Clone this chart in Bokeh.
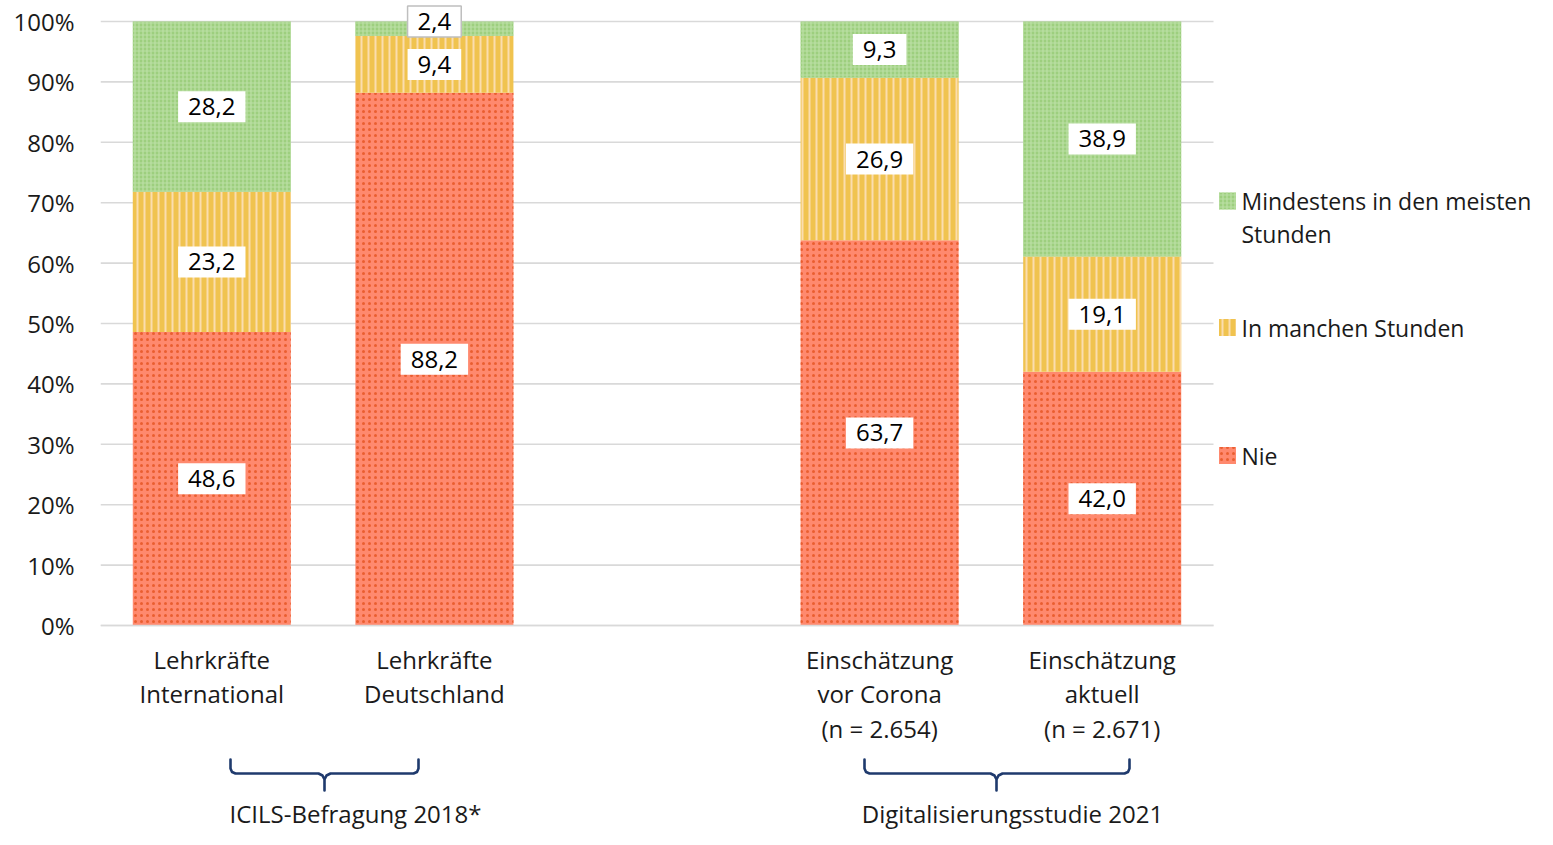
from bokeh.plotting import figure
from bokeh.models import ColumnDataSource, FixedTicker, PrintfTickFormatter, LinearAxis
from bokeh.core.properties import value
from bokeh.embed import file_html
from bokeh.resources import INLINE

# ---------------- data ----------------
categories = ["Lehrkräfte\nInternational", "Lehrkräfte\nDeutschland",
              "Einschätzung\nvor Corona\n(n = 2.654)", "Einschätzung\naktuell\n(n = 2.671)"]
slots = [1, 2, 4, 5]                      # slot 3 is an empty gap between the two studies
series_names = ["Nie", "In manchen Stunden", "Mindestens in den meisten Stunden"]
legend_labels = ["Nie", "In manchen Stunden", "Mindestens in den meisten\nStunden"]
nie = [48.6, 88.2, 63.7, 42.0]
manche = [23.2, 9.4, 26.9, 19.1]
meiste = [28.2, 2.4, 9.3, 38.9]
groups = ["ICILS-Befragung 2018*", "Digitalisierungsstudie 2021"]
y_ticks = [0, 10, 20, 30, 40, 50, 60, 70, 80, 90, 100]

# ---------------- styles ----------------
FONT = value("Open Sans")
FS = "24px"
fills = ["#FF896E", "#F0C34F", "#9DCF7E"]
hatch_cols = ["#EA5E30", "#FBDDAE", "#BCE0A5"]
patterns = ["dot", "vertical_line", "cross"]
hatch_scales = [6, 7, 4]
hatch_weights = [1.8, 2.0, 1.2]
GRID = "#D9D9D9"
BRACE = "#1F3A6D"
W, H = 1537, 829

# pixel helpers (plot frame: x 100..W, y 0..H; 100% at 21, 0% at 625)
PXU_X = 222.6
PXU_Y = 6.04
def dx(sx):
    return 0.5 + (sx - 100) / PXU_X
def dy(sy):
    return (625 - sy) / PXU_Y

p = figure(width=W, height=H, output_backend="svg", toolbar_location=None,
           x_range=(0.5, dx(W)), y_range=(dy(H), dy(0)),
           x_axis_type=None, min_border_left=100, min_border_right=0,
           min_border_top=0, min_border_bottom=0)
p.outline_line_color = None
p.xgrid.visible = False
p.ygrid.visible = False
p.background_fill_color = "white"
p.border_fill_color = "white"

# y axis
yax = p.yaxis[0]
yax.ticker = FixedTicker(ticks=y_ticks)
yax.formatter = PrintfTickFormatter(format="%d%%")
yax.axis_line_color = None
yax.major_tick_line_color = None
yax.minor_tick_line_color = None
yax.major_tick_out = 0
yax.major_label_standoff = 26
yax.major_label_text_font = "Open Sans"
yax.major_label_text_font_size = FS
yax.major_label_text_color = "#1a1a1a"

# gridlines (stop at the end of the plot area, legend lives to the right)
p.segment(x0=[0.5] * len(y_ticks), x1=[5.5] * len(y_ticks), y0=y_ticks, y1=y_ticks,
          line_color=GRID, line_width=1.6)

# x axis at 0 with category labels
xax = LinearAxis(fixed_location=0, ticker=FixedTicker(ticks=slots),
                 major_label_overrides={s: c for s, c in zip(slots, categories)},
                 bounds=(0.5, 5.5))
xax.axis_line_color = GRID
xax.axis_line_width = 1.6
xax.major_tick_line_color = None
xax.minor_tick_line_color = None
xax.major_tick_out = 0
xax.major_label_standoff = 17
xax.major_label_text_font = "Open Sans"
xax.major_label_text_font_size = FS
xax.major_label_text_color = "#1a1a1a"
xax.major_label_text_line_height = 1.05
p.add_layout(xax, "below")

# stacked bars
totals = [a + b + c for a, b, c in zip(nie, manche, meiste)]
bottoms = [0.0] * len(slots)
lab_in = dict(x=[], y=[], t=[])
lab_out = dict(x=[], y=[], t=[])
for i, s in enumerate([nie, manche, meiste]):
    share = [v / t * 100 for v, t in zip(s, totals)]
    tops = [b + sh for b, sh in zip(bottoms, share)]
    src = ColumnDataSource(dict(x=slots, bottom=bottoms, top=tops))
    p.vbar(x="x", bottom="bottom", top="top", width=0.71, source=src,
           fill_color=fills[i], line_color=None,
           hatch_pattern=patterns[i], hatch_color=hatch_cols[i],
           hatch_scale=hatch_scales[i], hatch_weight=hatch_weights[i])
    for xx, b, t, v in zip(slots, bottoms, tops, s):
        txt = f"{v:.1f}".replace(".", ",")
        if t - b < 4:
            lab_out["x"].append(xx); lab_out["y"].append(t); lab_out["t"].append(txt)
        else:
            lab_in["x"].append(xx); lab_in["y"].append((b + t) / 2); lab_in["t"].append(txt)
    bottoms = tops

lab_kw = dict(text="t", text_font=FONT, text_font_size=FS, text_color="black",
              text_align="center", text_baseline="middle",
              background_fill_color="white",
              padding=dict(left=10, right=10, top=7, bottom=7))
p.text(x="x", y="y", source=ColumnDataSource(lab_in), border_line_color=None, **lab_kw)
p.text(x="x", y="y", source=ColumnDataSource(lab_out), border_line_color="#BFBFBF",
       border_line_width=1.5, **lab_kw)

# braces under the two groups
def brace(x0, x1, xc, ytop=759, ymid=773, ybot=790):
    pts = [(x0, ytop), (x0, ymid - 5), (x0 + 1.5, ymid - 1.5), (x0 + 5, ymid),
           (xc - 6, ymid), (xc - 2, ymid + 2), (xc, ymid + 6), (xc, ybot),
           (xc, ymid + 6), (xc + 2, ymid + 2), (xc + 6, ymid),
           (x1 - 5, ymid), (x1 - 1.5, ymid - 1.5), (x1, ymid - 5), (x1, ytop)]
    return [dx(a) for a, _ in pts], [dy(b) for _, b in pts]

for (x0, x1, xc) in [(230, 418, 324), (864, 1129, 996)]:
    bx, by = brace(x0, x1, xc)
    p.line(bx, by, line_color=BRACE, line_width=2.6, line_join="round", line_cap="round")

p.text(x=[dx(355), dx(1012)], y=[dy(813)] * 2, text=groups, text_font=FONT,
       text_font_size=FS, text_color="#1a1a1a", text_align="center", text_baseline="middle")

# legend (drawn right of the plot area)
leg_rows = [455, 327, 200.5]
leg_text_rows = [455, 327, 217]
p.scatter(x=[dx(1227)] * 3, y=[dy(r) for r in leg_rows], marker="square", size=17,
          fill_color=fills, line_color=None, hatch_pattern=patterns,
          hatch_color=hatch_cols, hatch_scale=hatch_scales, hatch_weight=hatch_weights)
p.text(x=[dx(1241)] * 3, y=[dy(r) for r in leg_text_rows], text=legend_labels,
       text_font=FONT, text_font_size="23px", text_color="#1a1a1a",
       text_align="left", text_baseline="middle", text_line_height=1.03)

open("out.html", "w").write(file_html(p, INLINE))
